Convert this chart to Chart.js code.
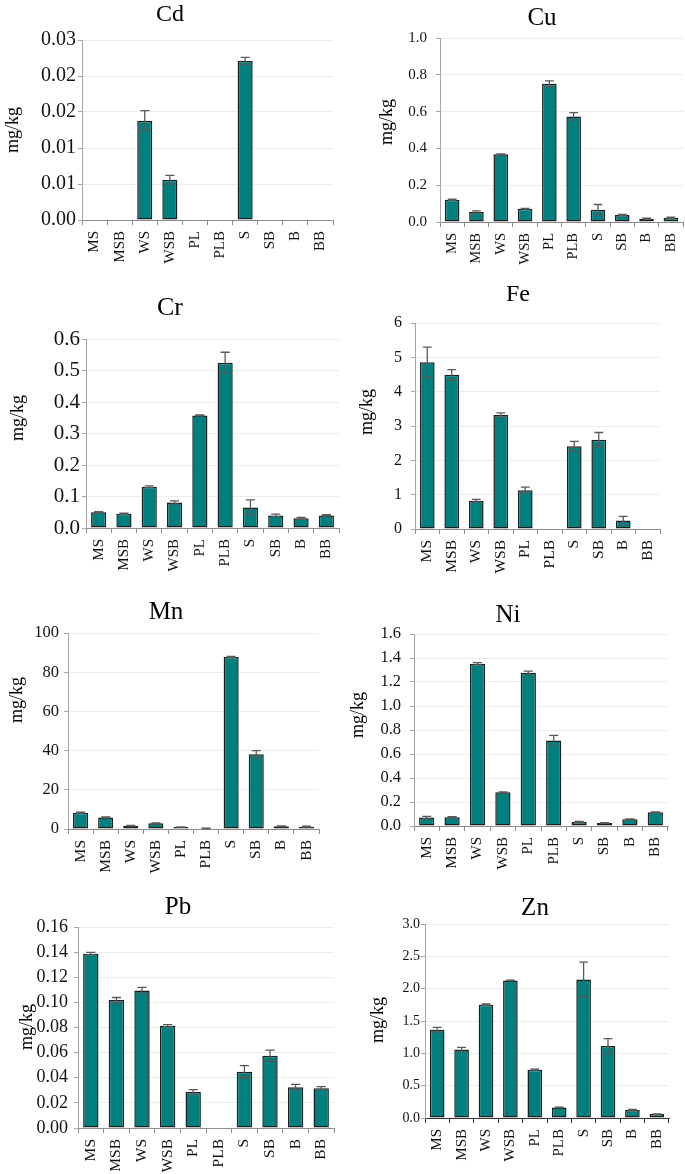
<!DOCTYPE html>
<html>
<head>
<meta charset="utf-8">
<script src="https://cdn.jsdelivr.net/npm/chart.js@4.4.1/dist/chart.umd.min.js"></script>
<style>
  html, body { margin: 0; padding: 0; background: #fff; }
  #wrap { position: relative; width: 685px; height: 1174px; overflow: hidden; }
  canvas { position: absolute; }
</style>
</head>
<body>
<div id="wrap"></div>
<script>
'use strict';

// sample sites
const categories = ['MS', 'MSB', 'WS', 'WSB', 'PL', 'PLB', 'S', 'SB', 'B', 'BB'];

// mean concentration (mg/kg) and error (+/-) per element
const cdMean = [0, 0, 0.0138, 0.0056, 0, 0, 0.0221, 0, 0, 0];
const cdErr = [0, 0, 0.0014, 0.0006, 0, 0, 0.0005, 0, 0, 0];
const cdTicks = ['0.00', '0.01', '0.01', '0.02', '0.02', '0.03'];

const cuMean = [0.121, 0.054, 0.368, 0.072, 0.751, 0.574, 0.067, 0.038, 0.018, 0.023];
const cuErr = [0.003, 0.006, 0.002, 0.002, 0.016, 0.02, 0.028, 0.003, 0.003, 0.004];
const cuTicks = ['0.0', '0.2', '0.4', '0.6', '0.8', '1.0'];

const crMean = [0.050, 0.045, 0.131, 0.081, 0.357, 0.525, 0.065, 0.040, 0.031, 0.040];
const crErr = [0.002, 0.002, 0.003, 0.005, 0.002, 0.033, 0.024, 0.004, 0.003, 0.002];
const crTicks = ['0.0', '0.1', '0.2', '0.3', '0.4', '0.5', '0.6'];

const feMean = [4.86, 4.49, 0.82, 3.32, 1.13, 0, 2.41, 2.60, 0.25, 0];
const feErr = [0.44, 0.15, 0.04, 0.06, 0.09, 0, 0.14, 0.21, 0.12, 0];
const feTicks = ['0', '1', '2', '3', '4', '5', '6'];

const mnMean = [8.3, 5.9, 1.7, 2.9, 1.0, 0.3, 87.7, 38.1, 1.4, 1.2];
const mnErr = [0.3, 0.3, 0.2, 0.2, 0.1, 0.1, 0.3, 1.9, 0.2, 0.2];
const mnTicks = ['0', '20', '40', '60', '80', '100'];

const niMean = [0.070, 0.072, 1.352, 0.281, 1.277, 0.712, 0.034, 0.025, 0.056, 0.114];
const niErr = [0.010, 0.005, 0.010, 0.004, 0.013, 0.043, 0.005, 0.003, 0.004, 0.004];
const niTicks = ['0.0', '0.2', '0.4', '0.6', '0.8', '1.0', '1.2', '1.4', '1.6'];

const pbMean = [0.1388, 0.1018, 0.1095, 0.0814, 0.0286, 0, 0.0447, 0.0576, 0.0325, 0.0317];
const pbErr = [0.0010, 0.0021, 0.0025, 0.0009, 0.0020, 0, 0.0049, 0.0044, 0.0022, 0.0012];
const pbTicks = ['0.00', '0.02', '0.04', '0.06', '0.08', '0.10', '0.12', '0.14', '0.16'];

const znMean = [1.365, 1.061, 1.753, 2.125, 0.745, 0.161, 2.141, 1.112, 0.124, 0.06];
const znErr = [0.035, 0.03, 0.01, 0.005, 0.01, 0.005, 0.27, 0.116, 0.01, 0.005];
const znTicks = ['0.0', '0.5', '1.0', '1.5', '2.0', '2.5', '3.0'];

const serif = "'Liberation Serif', 'Times New Roman', serif";
const wrap = document.getElementById('wrap');

// error bars drawn from the y scale
const errorBars = {
  id: 'errorBars',
  afterDatasetsDraw(chart) {
    const ctx = chart.ctx;
    const ds = chart.data.datasets[0];
    const meta = chart.getDatasetMeta(0);
    const y = chart.scales.y;
    ctx.save();
    ctx.strokeStyle = '#5a5a5a';
    ctx.lineWidth = 1.3;
    meta.data.forEach((bar, i) => {
      const e = ds.errors[i];
      if (!e) return;
      const v = ds.data[i];
      const y1 = y.getPixelForValue(v + e);
      const y2 = y.getPixelForValue(Math.max(0, v - e));
      const w = bar.width * 0.3;
      ctx.beginPath();
      ctx.moveTo(bar.x, y1); ctx.lineTo(bar.x, y2);
      ctx.moveTo(bar.x - w, y1); ctx.lineTo(bar.x + w, y1);
      ctx.moveTo(bar.x - w, y2); ctx.lineTo(bar.x + w, y2);
      ctx.stroke();
    });
    ctx.restore();
  }
};

// panel title and y axis title
const panelText = {
  id: 'panelText',
  afterDraw(chart, args, o) {
    const ctx = chart.ctx;
    ctx.save();
    ctx.fillStyle = '#000';
    ctx.textAlign = 'center';
    ctx.textBaseline = 'middle';
    ctx.font = o.tsize + 'px ' + serif;
    ctx.fillText(o.title, o.tx, o.ty);
    ctx.translate(o.lx, o.ly);
    ctx.rotate(-Math.PI / 2);
    ctx.font = o.lsize + 'px ' + serif;
    ctx.fillText('mg/kg', 0, 0);
    ctx.restore();
  }
};

function makePanel(p, means, errs, ticks) {
  const [bx, by, bw, bh] = p.box;
  const [pl, pr, pt, pb] = p.plot;
  const axisColor = p.axis || '#8c8c8c';
  const c = document.createElement('canvas');
  c.width = bw; c.height = bh;
  c.style.left = bx + 'px'; c.style.top = by + 'px';
  c.style.width = bw + 'px'; c.style.height = bh + 'px';
  wrap.appendChild(c);

  new Chart(c, {
    type: 'bar',
    data: {
      labels: categories,
      datasets: [{
        data: means,
        errors: errs,
        backgroundColor: '#007f7f',
        borderColor: '#1e1e1e',
        borderWidth: 1.5,
        borderSkipped: false,
        barPercentage: 0.6,
        categoryPercentage: 1
      }]
    },
    options: {
      responsive: false,
      animation: false,
      devicePixelRatio: 1,
      layout: { padding: { left: 0, top: pt - by, right: bx + bw - pr, bottom: 0 } },
      plugins: {
        legend: { display: false },
        tooltip: { enabled: false },
        panelText: {
          title: p.title, tx: p.tx - bx, ty: p.ty - by, tsize: p.tsize,
          lx: p.lx - bx, ly: p.ly - by, lsize: p.lsize
        }
      },
      scales: {
        x: {
          grid: { offset: true, drawOnChartArea: false, drawTicks: true, tickLength: 5, tickColor: axisColor },
          border: { color: axisColor, width: 1 },
          ticks: {
            minRotation: 90, maxRotation: 90, autoSkip: false, padding: 6,
            color: '#111', font: { family: serif, size: p.xsize }
          },
          afterFit(s) {
            s.height = by + bh - pb;
            s.paddingLeft = 0; s.paddingRight = 0;
          }
        },
        y: {
          min: 0,
          max: p.max,
          grid: { color: '#ececec', tickLength: 4, tickColor: '#a6a6a6' },
          border: { color: '#a6a6a6', width: 1 },
          ticks: {
            color: '#111', padding: p.tpad, font: { family: serif, size: p.ysize },
            callback: (v, i) => ticks[i]
          },
          afterBuildTicks(s) {
            s.ticks = ticks.map((t, i) => ({ value: p.max * i / (ticks.length - 1) }));
          },
          afterFit(s) {
            s.width = pl - bx;
            s.paddingTop = 0; s.paddingBottom = 0;
          }
        }
      }
    },
    plugins: [errorBars, panelText]
  });
}

makePanel({ title: 'Cd', box: [0, 0, 340, 290], plot: [82, 333, 40, 220], max: 0.025,
  tx: 170, ty: 15, tsize: 24, lx: 13, ly: 130, lsize: 18, ysize: 20, tpad: 2, xsize: 15 }, cdMean, cdErr, cdTicks);
makePanel({ title: 'Cu', box: [340, 0, 345, 290], plot: [440, 683, 38, 222], max: 1,
  tx: 542, ty: 18, tsize: 25, lx: 387, ly: 122, lsize: 18, ysize: 15, tpad: 9, xsize: 14.5 }, cuMean, cuErr, cuTicks);
makePanel({ title: 'Cr', box: [0, 290, 340, 310], plot: [86, 339, 339, 528], max: 0.6,
  tx: 170, ty: 308, tsize: 26, lx: 18, ly: 418, lsize: 18, ysize: 21, tpad: 2, xsize: 15 }, crMean, crErr, crTicks);
makePanel({ title: 'Fe', box: [340, 270, 345, 330], plot: [415, 660, 323, 529], max: 6,
  tx: 518, ty: 295, tsize: 24, lx: 367, ly: 412, lsize: 18, ysize: 16, tpad: 9, xsize: 15.5 }, feMean, feErr, feTicks);
makePanel({ title: 'Mn', box: [0, 600, 340, 280], plot: [68, 319, 633, 829], max: 100,
  tx: 166, ty: 612, tsize: 25, lx: 17, ly: 700, lsize: 18, ysize: 16.5, tpad: 5, xsize: 15.5 }, mnMean, mnErr, mnTicks);
makePanel({ title: 'Ni', box: [340, 600, 345, 280], plot: [414, 668, 634, 826], max: 1.6,
  tx: 508, ty: 615, tsize: 25, lx: 358, ly: 715, lsize: 18, ysize: 16.5, tpad: 9, xsize: 15 }, niMean, niErr, niTicks);
makePanel({ title: 'Pb', box: [0, 880, 340, 294], plot: [78, 334, 927, 1128], max: 0.16,
  tx: 178, ty: 907, tsize: 25, lx: 27, ly: 1027, lsize: 18, ysize: 18, tpad: 6, xsize: 15.5 }, pbMean, pbErr, pbTicks);
makePanel({ title: 'Zn', box: [340, 880, 345, 294], plot: [425, 669, 924, 1118], max: 3,
  tx: 535, ty: 908, tsize: 25, lx: 378, ly: 1020, lsize: 18, ysize: 14, tpad: 1, xsize: 15, axis: '#333' }, znMean, znErr, znTicks);
</script>
</body>
</html>
